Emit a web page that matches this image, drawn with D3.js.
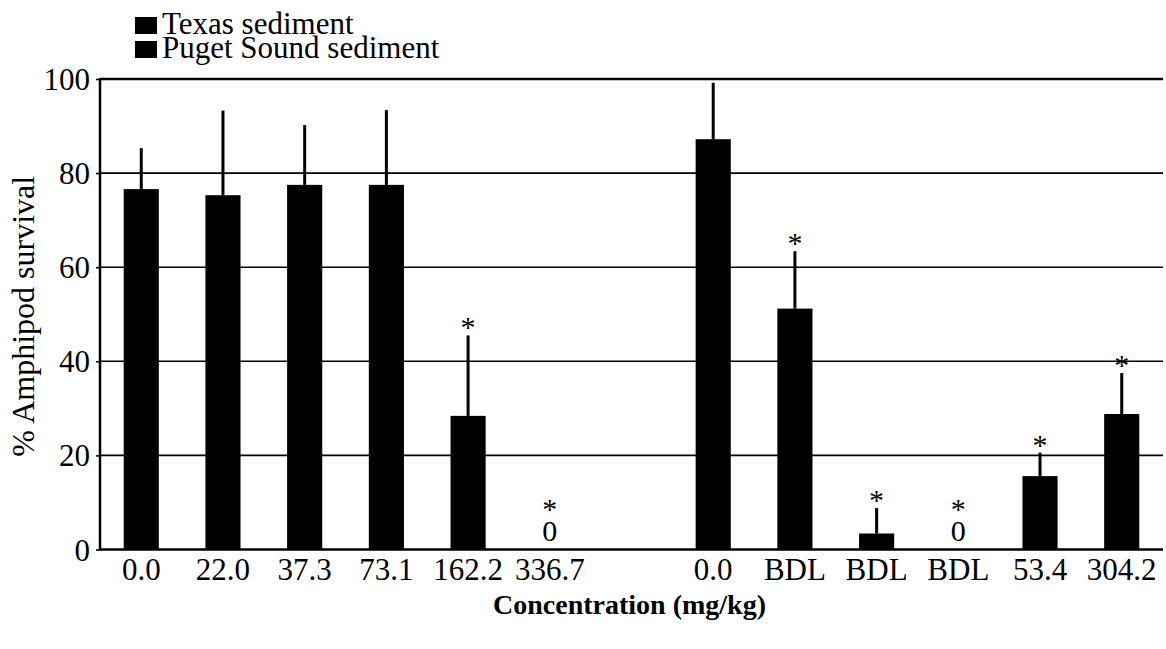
<!DOCTYPE html>
<html>
<head>
<meta charset="utf-8">
<script src="https://cdn.jsdelivr.net/npm/d3@7/dist/d3.min.js"></script>
<style>
  html, body { margin: 0; padding: 0; background: #fff; }
  svg { display: block; }
  svg text { font-family: "Liberation Serif", serif !important; }
</style>
</head>
<body>
<svg id="chart" width="1166" height="649"></svg>
<script>
// Amphipod survival by sediment source and concentration
const groups = ["Texas sediment", "Puget Sound sediment"];
const texasLabels = ["0.0", "22.0", "37.3", "73.1", "162.2", "336.7"];
const pugetLabels = ["0.0", "BDL", "BDL", "BDL", "53.4", "304.2"];
const texasSurvival = [76.6, 75.3, 77.5, 77.5, 28.4, 0];
const pugetSurvival = [87.2, 51.2, 3.4, 0, 15.6, 28.8];
const texasSD = [8.7, 18.0, 12.7, 15.9, 17.1, 0];
const pugetSD = [12.0, 12.2, 5.4, 0, 5.0, 8.7];
const texasSignificant = [false, false, false, false, true, true];
const pugetSignificant = [false, true, true, true, true, true];
const yTicks = [0, 20, 40, 60, 80, 100];

const FONT = "Liberation Serif";

const rows = [
  ...texasLabels.map((label, i) => ({ key: "t" + i, label, value: texasSurvival[i], sd: texasSD[i], sig: texasSignificant[i] })),
  ...pugetLabels.map((label, i) => ({ key: "p" + i, label, value: pugetSurvival[i], sd: pugetSD[i], sig: pugetSignificant[i] }))
];

const svg = d3.select("#chart");
const plotLeft = 100, plotRight = 1163, plotTop = 79, plotBottom = 549.5;

// one empty slot separates the two sediment groups
const domain = [...rows.slice(0, 6).map(d => d.key), "gap", ...rows.slice(6).map(d => d.key)];
const x = d3.scaleBand().domain(domain).range([plotLeft, plotRight]).paddingInner(0.57).paddingOuter(0.29);
const y = d3.scaleLinear().domain([0, 100]).range([plotBottom, plotTop]);
const cx = d => x(d.key) + x.bandwidth() / 2;

// horizontal grid lines
svg.append("g").selectAll("line")
  .data(yTicks.filter(t => t > 0 && t < 100))
  .join("line")
  .attr("x1", plotLeft).attr("x2", plotRight)
  .attr("y1", d => y(d)).attr("y2", d => y(d))
  .attr("stroke", "#000").attr("stroke-width", 1.6);

// y axis with labels
const yAxis = svg.append("g")
  .attr("transform", `translate(${plotLeft},0)`)
  .call(d3.axisLeft(y).tickValues(yTicks).tickSize(4).tickPadding(6).tickFormat(d3.format("d")));
yAxis.attr("font-family", null).attr("font-size", null);
yAxis.select(".domain").remove();
yAxis.selectAll(".tick line").attr("stroke", "#000").attr("stroke-width", 1.6);
yAxis.selectAll(".tick text").attr("font-size", 31).attr("dy", "0.34em");

// frame: top and left
svg.append("line").attr("x1", plotLeft).attr("x2", plotRight).attr("y1", y(100)).attr("y2", y(100))
  .attr("stroke", "#000").attr("stroke-width", 2.5);
svg.append("line").attr("x1", plotLeft).attr("x2", plotLeft).attr("y1", y(100) - 1).attr("y2", y(0) + 1)
  .attr("stroke", "#000").attr("stroke-width", 2.5);

// bars
svg.append("g").selectAll("rect")
  .data(rows.filter(d => d.value > 0))
  .join("rect")
  .attr("x", d => x(d.key))
  .attr("width", x.bandwidth())
  .attr("y", d => y(d.value))
  .attr("height", d => y(0) - y(d.value))
  .attr("fill", "#000");

// upper error bars
svg.append("g").selectAll("line")
  .data(rows.filter(d => d.sd > 0))
  .join("line")
  .attr("x1", cx).attr("x2", cx)
  .attr("y1", d => y(d.value))
  .attr("y2", d => y(d.value + d.sd))
  .attr("stroke", "#000").attr("stroke-width", 3);

// baseline
svg.append("line").attr("x1", plotLeft).attr("x2", plotRight).attr("y1", y(0)).attr("y2", y(0))
  .attr("stroke", "#000").attr("stroke-width", 2.5);

// significance asterisks above error bars
svg.append("g").selectAll("text")
  .data(rows.filter(d => d.sig && d.value > 0))
  .join("text")
  .attr("x", cx)
  .attr("y", d => y(d.value + d.sd) + 2)
  .attr("text-anchor", "middle")
  .attr("font-size", 30)
  .text("*");

// zero-survival bars: asterisk stacked over the value
const zeroLabels = svg.append("g").selectAll("text")
  .data(rows.filter(d => d.value === 0))
  .join("text")
  .attr("x", cx)
  .attr("y", d => y(d.value) - 31)
  .attr("text-anchor", "middle")
  .attr("font-size", 30);
zeroLabels.append("tspan").text(d => d.sig ? "*" : "");
zeroLabels.append("tspan").attr("x", cx).attr("dy", 22).text(d => d3.format("d")(d.value));

// category labels
svg.append("g").selectAll("text")
  .data(rows)
  .join("text")
  .attr("x", cx)
  .attr("y", 580)
  .attr("text-anchor", "middle")
  .attr("font-size", 31)
  .text(d => d.label);

// axis titles
svg.append("text")
  .attr("transform", `translate(34,${(plotTop + plotBottom) / 2 + 2}) rotate(-90)`)
  .attr("text-anchor", "middle")
  .attr("font-size", 32)
  .text("% Amphipod survival");

svg.append("text")
  .attr("x", (plotLeft + plotRight) / 2 - 2)
  .attr("y", 614)
  .attr("text-anchor", "middle")
  .attr("font-size", 28)
  .attr("font-weight", "bold")
  .text("Concentration (mg/kg)");

// legend: swatches plus one two-line text block
svg.append("g").selectAll("rect")
  .data(groups)
  .join("rect")
  .attr("x", 135)
  .attr("y", (d, i) => 17 + i * 24)
  .attr("width", 22).attr("height", 17).attr("fill", "#000");
svg.append("text")
  .attr("font-size", 31)
  .selectAll("tspan")
  .data(groups)
  .join("tspan")
  .attr("x", 162)
  .attr("y", (d, i) => 34 + i * 24)
  .text(d => d);

// serif face on every label
svg.selectAll("text")
  .attr("font-family", FONT)
  .style("font-family", "'Liberation Serif', serif")
  .attr("fill", "#000");
</script>
</body>
</html>
